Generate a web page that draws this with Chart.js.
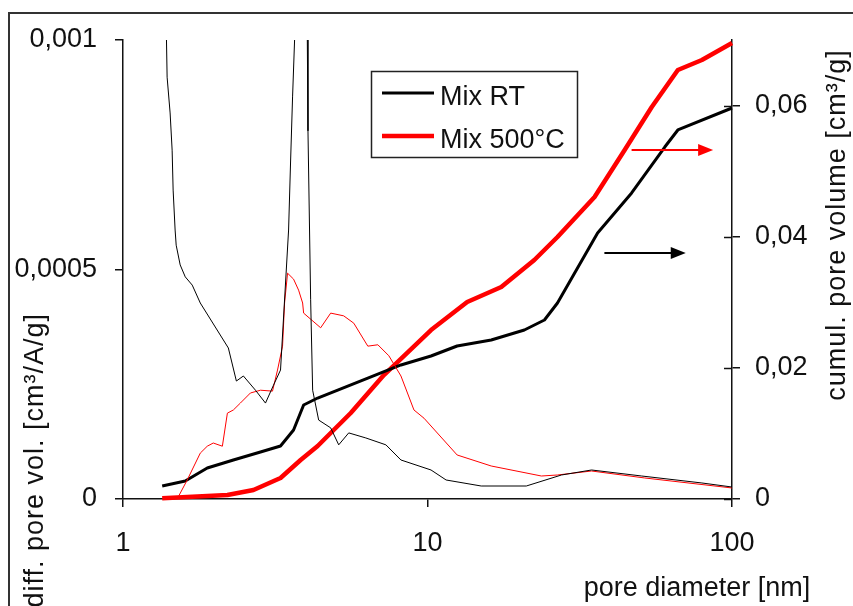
<!DOCTYPE html>
<html>
<head>
<meta charset="utf-8">
<title>Pore size distribution</title>
<script src="https://cdn.jsdelivr.net/npm/chart.js@4.4.1/dist/chart.umd.min.js"></script>
<style>
  html, body { margin: 0; padding: 0; background: #fff; overflow: hidden; }
  canvas { display: block; }
</style>
</head>
<body>
<canvas id="poreChart" width="853" height="606"></canvas>
<script>
/* ============================================================
   DATA - pore diameter in nm
   ============================================================ */

const seriesNames = ['Mix RT', 'Mix 500°C'];

// differential pore volume, left axis [cm³/A/g]
const rtDiffD = [1.386, 1.396, 1.428, 1.450, 1.461, 1.483, 1.495, 1.541, 1.601, 1.688, 1.794, 2.218, 2.357,
  2.485, 2.723, 2.937, 3.121, 3.291, 3.498, 3.550, 3.605, 3.660, 3.83, 4.03, 4.05, 4.133, 4.196, 4.391, 4.809,
  5.110, 5.512, 6.272, 7.300, 8.181, 10.27, 11.51, 15.01, 21.11, 27.54, 34.57, 50.52, 79.63, 100];
const rtDiffV = [0.00104, 0.000919, 0.000841, 0.000760, 0.000673, 0.000586, 0.000553, 0.000510, 0.000484,
  0.000466, 0.000427, 0.000329, 0.000257, 0.000268, 0.000237, 0.000209, 0.000248, 0.000281, 0.000586,
  0.000732, 0.000876, 0.00100, 0.00150, 0.00100, 0.000802, 0.000434, 0.000237, 0.000172, 0.000155,
  0.000118, 0.000144, 0.000133, 0.000118, 0.0000850, 0.0000632, 0.0000414, 0.0000283, 0.0000283,
  0.0000523, 0.0000632, 0.0000501, 0.0000349, 0.0000261];

const hotDiffD = [1.506, 1.625, 1.794, 1.891, 1.979, 2.120, 2.202, 2.304, 2.429, 2.621, 2.828, 3.097, 3.217,
  3.342, 3.393, 3.471, 3.632, 3.773, 3.890, 3.919, 4.458, 4.809, 5.307, 5.727, 6.368, 6.870, 7.467, 8.181,
  9.026, 9.739, 12.51, 16.19, 23.66, 26.72, 34.57, 51.68, 100];
const hotDiffV = [0, 0.0000414, 0.000100, 0.000115, 0.000122, 0.000115, 0.000187, 0.000194, 0.000209,
  0.000231, 0.000237, 0.000235, 0.000281, 0.000333, 0.000427, 0.000492, 0.000479, 0.000455, 0.000427,
  0.000405, 0.000373, 0.000405, 0.000399, 0.000383, 0.000333, 0.000336, 0.000312, 0.000268, 0.000194,
  0.000176, 0.0000959, 0.0000719, 0.0000501, 0.0000523, 0.0000610, 0.0000458, 0.0000240];

// cumulative pore volume, right axis [cm³/g]
const rtCumD = [1.345, 1.601, 1.891, 2.304, 2.828, 3.291, 3.632, 3.919, 4.358, 5.072, 6.368, 8.181, 10.27,
  12.51, 16.19, 20.80, 24.21, 26.72, 36.19, 46.82, 60.15, 66.40, 100];
const rtCumV = [0.00198, 0.00275, 0.00473, 0.00595, 0.00717, 0.00808, 0.01052, 0.01434, 0.01540, 0.01662,
  0.01845, 0.02044, 0.02181, 0.02333, 0.02425, 0.02577, 0.02730, 0.02989, 0.04057, 0.04667, 0.05368,
  0.05628, 0.05963];

const hotCumD = [1.345, 2.202, 2.682, 3.291, 3.831, 4.358, 5.597, 7.190, 10.27, 13.50, 17.47, 22.43, 26.72,
  35.37, 44.41, 54.51, 66.40, 79.63, 100];
const hotCumV = [0.0001, 0.00061, 0.00137, 0.00320, 0.00595, 0.00808, 0.01312, 0.01891, 0.02577, 0.03004,
  0.03233, 0.03645, 0.03996, 0.04606, 0.05323, 0.05978, 0.06543, 0.06695, 0.06954];

// tick values
const xTicks = [1, 10, 100];
const leftTicks = [0, 0.0005, 0.001];
const rightTicks = [0, 0.02, 0.04, 0.06];

// arrows pointing to the right axis: [from nm, to nm, cumul. volume]
const arrowRed = [46.8, 86.7, 0.0532];
const arrowBlack = [38.1, 70.5, 0.0375];

/* ============================================================
   CHART
   ============================================================ */

const FONT = '"Liberation Sans", Arial, sans-serif';
const INK = '#111';
const RED = '#ff0000';

const pts = (xs, ys) => xs.map((x, i) => ({ x, y: ys[i] }));
const comma = v => (v === 0 ? '0' : String(v).replace('.', ','));
const setTicks = list => scale => { scale.ticks = list.map(value => ({ value })); };

function drawArrow(ctx, x1, x2, y, color) {
  ctx.strokeStyle = color;
  ctx.fillStyle = color;
  ctx.lineWidth = 2;
  ctx.beginPath();
  ctx.moveTo(x1, y);
  ctx.lineTo(x2 - 12, y);
  ctx.stroke();
  ctx.beginPath();
  ctx.moveTo(x2, y);
  ctx.lineTo(x2 - 15, y - 6);
  ctx.lineTo(x2 - 15, y + 6);
  ctx.closePath();
  ctx.fill();
}

const overlay = {
  id: 'overlay',
  afterDraw(chart) {
    const { ctx, chartArea: a, scales } = chart;
    const { x, y1 } = scales;
    ctx.save();

    // outer frame of the figure
    ctx.strokeStyle = '#333';
    ctx.lineWidth = 2;
    ctx.strokeRect(9, 13, 1000, 1000);

    // right-axis ticks cross the axis
    ctx.strokeStyle = INK;
    ctx.lineWidth = 1.5;
    rightTicks.forEach(v => {
      const py = Math.round(y1.getPixelForValue(v)) + 0.5;
      ctx.beginPath();
      ctx.moveTo(a.right - 8, py);
      ctx.lineTo(a.right, py);
      ctx.stroke();
    });

    // arrows
    [[arrowRed, RED], [arrowBlack, '#000']].forEach(([arr, color]) => {
      drawArrow(ctx, x.getPixelForValue(arr[0]), x.getPixelForValue(arr[1]),
        Math.round(y1.getPixelForValue(arr[2])), color);
    });

    // legend box
    ctx.strokeStyle = '#222';
    ctx.lineWidth = 1.5;
    ctx.strokeRect(371.5, 71.5, 206, 86);
    ctx.font = `27px ${FONT}`;
    ctx.textAlign = 'left';
    ctx.textBaseline = 'alphabetic';
    [['#000', 3, 93], [RED, 4.5, 136]].forEach(([color, w, ly], i) => {
      ctx.strokeStyle = color;
      ctx.lineWidth = w;
      ctx.beginPath();
      ctx.moveTo(382, ly);
      ctx.lineTo(434, ly);
      ctx.stroke();
      ctx.fillStyle = INK;
      ctx.fillText(seriesNames[i], 440, ly + 12);
    });

    // axis titles
    ctx.fillStyle = INK;
    ctx.textAlign = 'center';
    ctx.fillText('pore diameter [nm]', 697, 596);

    ctx.letterSpacing = '1px';
    ctx.save();
    ctx.translate(43, 313);
    ctx.rotate(-Math.PI / 2);
    ctx.textAlign = 'right';
    ctx.fillText('diff. pore vol. [cm³/A/g]', 0, 0);
    ctx.restore();

    ctx.save();
    ctx.translate(845, 225);
    ctx.rotate(-Math.PI / 2);
    ctx.textAlign = 'center';
    ctx.fillText('cumul. pore volume [cm³/g]', 0, 0);
    ctx.restore();

    ctx.restore();
  }
};

const tickFont = { family: FONT, size: 27 };
const axisBorder = { display: true, color: INK, width: 1.5 };

new Chart(document.getElementById('poreChart').getContext('2d'), {
  type: 'line',
  data: {
    datasets: [
      { label: 'Mix RT diff', data: pts(rtDiffD, rtDiffV), yAxisID: 'y', borderColor: '#000', borderWidth: 1 },
      { label: 'Mix 500°C diff', data: pts(hotDiffD, hotDiffV), yAxisID: 'y', borderColor: RED, borderWidth: 1 },
      { label: 'Mix RT cumul', data: pts(rtCumD, rtCumV), yAxisID: 'y1', borderColor: '#000', borderWidth: 3 },
      { label: 'Mix 500°C cumul', data: pts(hotCumD, hotCumV), yAxisID: 'y1', borderColor: RED, borderWidth: 4.5 }
    ]
  },
  options: {
    responsive: false,
    animation: false,
    devicePixelRatio: 1,
    layout: { padding: { top: 40, left: 0, right: 0, bottom: 0 } },
    elements: {
      point: { radius: 0 },
      line: { tension: 0, fill: false, borderJoinStyle: 'round' }
    },
    datasets: { line: { clip: { left: 2, right: 3, top: 0, bottom: 3 } } },
    plugins: { legend: { display: false }, tooltip: { enabled: false } },
    scales: {
      x: {
        type: 'logarithmic',
        min: 1,
        max: 100,
        afterBuildTicks: setTicks(xTicks),
        afterFit: s => { s.height = 107; },
        ticks: { color: INK, font: tickFont, padding: 20, maxRotation: 0, callback: v => String(v) },
        grid: { drawOnChartArea: false, tickLength: 8, color: INK, lineWidth: 1.5 },
        border: axisBorder
      },
      y: {
        position: 'left',
        min: 0,
        max: 0.001,
        afterBuildTicks: setTicks(leftTicks),
        afterFit: s => { s.width = 123; },
        ticks: { color: INK, font: tickFont, padding: 18, callback: comma },
        grid: { drawOnChartArea: false, tickLength: 8, color: INK, lineWidth: 1.5 },
        border: axisBorder
      },
      y1: {
        position: 'right',
        min: 0,
        max: 0.07,
        afterBuildTicks: setTicks(rightTicks),
        afterFit: s => { s.width = 121; },
        ticks: { color: INK, font: tickFont, padding: 15, callback: comma },
        grid: { drawOnChartArea: false, tickLength: 8, color: INK, lineWidth: 1.5 },
        border: axisBorder
      }
    }
  },
  plugins: [overlay]
});
</script>
</body>
</html>
